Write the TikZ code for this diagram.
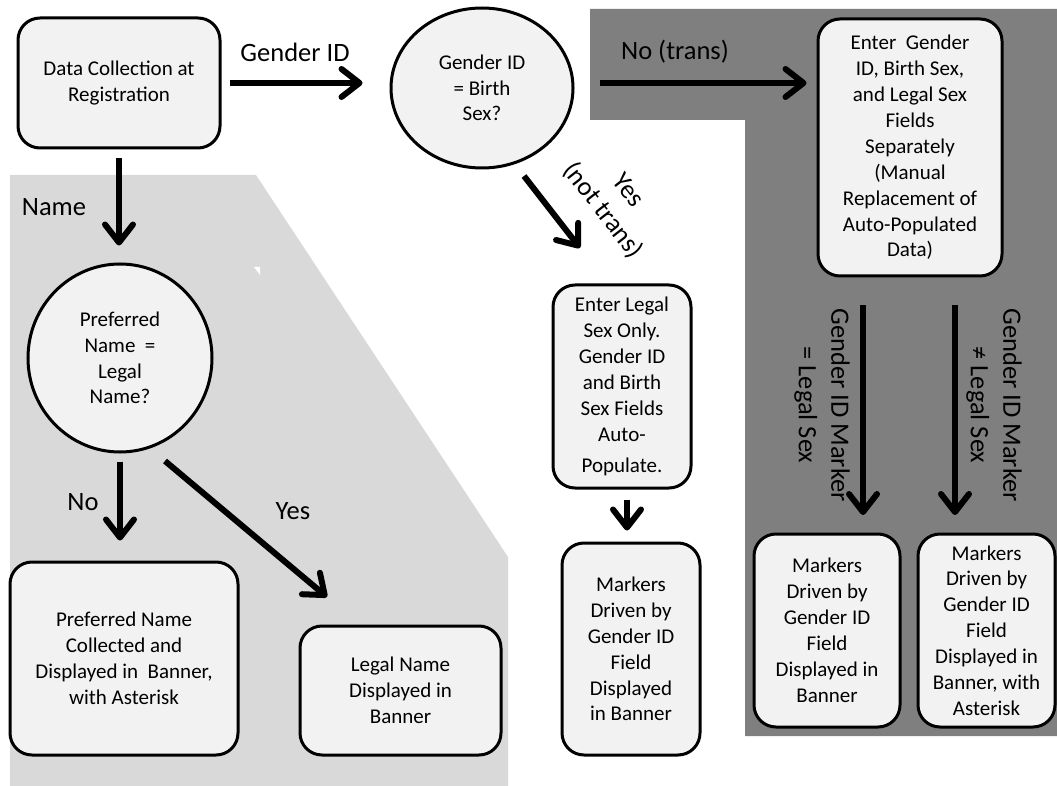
\documentclass[tikz,border=0pt]{standalone}
\usepackage{fontspec}
\setmainfont{Carlito}
\usetikzlibrary{shapes.geometric,arrows.meta}
\definecolor{lgray}{HTML}{D9D9D9}
\definecolor{dgray}{HTML}{7F7F7F}
\definecolor{boxfill}{HTML}{F2F2F2}
\begin{document}
\begin{tikzpicture}[x=1pt,y=-1pt,
  box/.style={draw=black, line width=3pt, fill=boxfill, rounded corners=22pt, inner sep=0pt, align=center, font=\fontsize{21}{25.9}\selectfont},
  oval/.style={draw=black, line width=3pt, fill=boxfill, ellipse, inner sep=0pt, align=center, font=\fontsize{21}{25.7}\selectfont},
  lbl/.style={font=\fontsize{26.5}{32.5}\selectfont, align=center, inner sep=0pt},
  arr/.style={line width=6pt, -{Straight Barb[length=18pt,width=28pt,round]}}]
\useasboundingbox (0,0) rectangle (1057,786);
\fill[white] (0,0) rectangle (1057,786);
\fill[lgray] (10,175) -- (256,175) -- (508,557) -- (508,786) -- (10,786) -- cycle;
\fill[white] (254,267) -- (260,267) -- (260,275) -- cycle;
\fill[dgray] (590,9) -- (1057,9) -- (1057,736) -- (745,736) -- (745,120) -- (590,120) -- cycle;

% nodes
\node[box, minimum width=202pt, minimum height=130pt] (dc) at (119,83) {Data Collection at\\Registration};
\node[oval, minimum width=182pt, minimum height=160pt] (gid) at (482,88) {Gender ID\\= Birth\\Sex?};
\node[box, minimum width=184pt, minimum height=257pt] (enter) at (910,147.5) {Enter\ \ Gender\\ID, Birth Sex,\\and Legal Sex\\Fields\\Separately\\(Manual\\Replacement of\\Auto-Populated\\Data)};
\node[box, minimum width=138pt, minimum height=203pt] (lso) at (622,386.5) {Enter Legal\\Sex Only.\\Gender ID\\and Birth\\Sex Fields\\Auto-\\[5pt]Populate.};
\node[box, minimum width=138pt, minimum height=212pt] (mm) at (631,649) {Markers\\Driven by\\Gender ID\\Field\\Displayed\\in Banner};
\node[box, minimum width=146pt, minimum height=193pt] (m2) at (827,630.5) {Markers\\Driven by\\Gender ID\\Field\\Displayed in\\Banner};
\node[box, minimum width=137pt, minimum height=193pt] (m3) at (986.5,630.5) {Markers\\Driven by\\Gender ID\\Field\\Displayed in\\Banner, with\\Asterisk};
\node[oval, minimum width=184pt, minimum height=188pt] (pc) at (120,358) {Preferred\\Name\ \ =\\Legal\\Name?};
\node[box, minimum width=228pt, minimum height=193pt] (pnc) at (124,658.5) {Preferred Name\\Collected and\\Displayed in\ \ Banner,\\with Asterisk};
\node[box, minimum width=201pt, minimum height=129pt] (ln) at (400.5,690.5) {Legal Name\\Displayed in\\Banner};

% labels
\node[lbl] (lgid) at (295,52) {Gender ID};
\node[lbl] (lno) at (675,52) {No (trans)};
\node[lbl] (lyes) at (615,201) [rotate=-52] {Yes\\(not trans)};
\node[lbl] (lname) at (54,207) {Name};
\node[lbl] (lno2) at (83,502) {No};
\node[lbl] (lyes2) at (293,511) {Yes};
\node[lbl] (leq) at (822,405) [rotate=-90] {Gender ID Marker\\= Legal Sex};
\node[lbl] (lneq) at (994,405) [rotate=-90] {Gender ID Marker\\≠ Legal Sex};

% arrow end coordinates
\coordinate (ys) at (524,176);
\coordinate (ye) at (580,248);
\coordinate (ls) at (165,461);
\coordinate (le) at (327,597);
\coordinate (a1s) at (863,305);
\coordinate (a1e) at (863,515);
\coordinate (a2s) at (955,305);
\coordinate (a2e) at (955,515);

% connectors
\draw[arr, shorten <=8pt, shorten >=27pt] (dc.east) -- (dc.east -| gid.west);
\draw[arr, shorten <=25pt, shorten >=10pt] (gid.east |- dc.east) -- (enter.west |- dc.east);
\draw[arr] (ys) -- (ye);
\draw[arr, shorten <=10pt, shorten >=11pt] ([xshift=5pt]lso.south) -- ([xshift=5pt]lso.south |- mm.north);
\draw[arr] (a1s) -- (a1e);
\draw[arr] (a2s) -- (a2e);
\draw[arr, shorten <=9pt, shorten >=17pt] (dc.south) -- (dc.south |- pc.north);
\draw[arr, shorten <=8pt, shorten >=20pt] (pc.south) -- (pc.south |- pnc.north);
\draw[arr] (ls) -- (le);
\end{tikzpicture}
\end{document}
